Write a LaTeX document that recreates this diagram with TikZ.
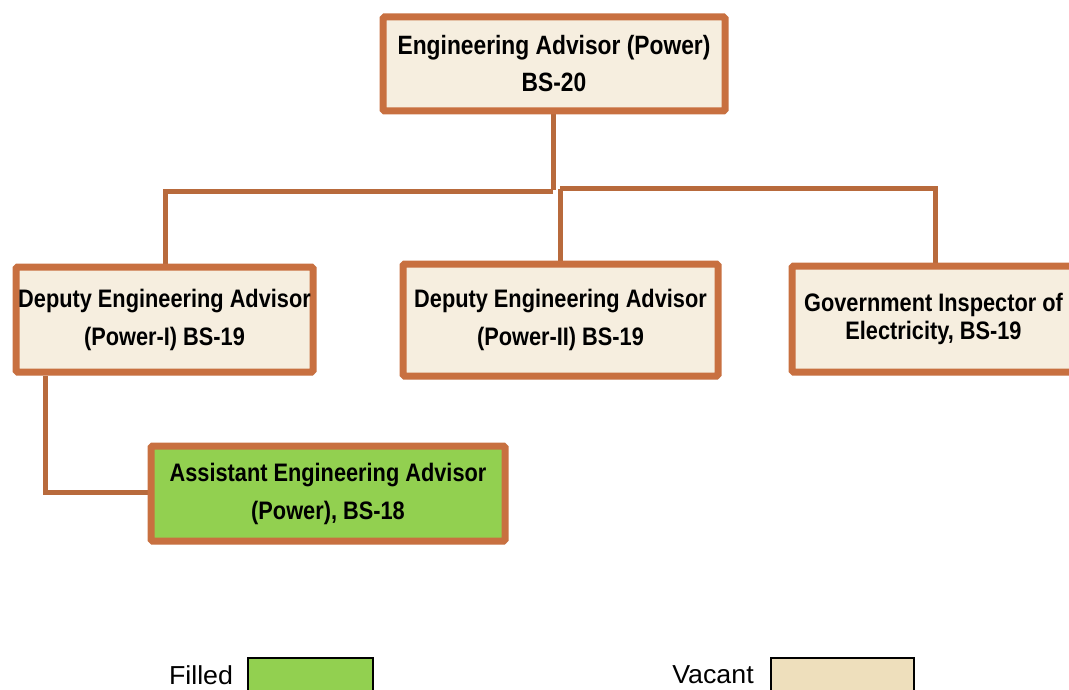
\documentclass[tikz,border=0pt]{standalone}
\usepackage{fontspec}
\setmainfont{Liberation Sans}
\newfontfamily\narrowbf[FakeStretch=0.86]{Liberation Sans Bold}
\newfontfamily\legfont[FakeStretch=1.03]{Liberation Sans}
\usetikzlibrary{shadows,backgrounds}
\definecolor{brd}{HTML}{C87040}
\definecolor{conn}{HTML}{B86A3C}
\definecolor{cream}{HTML}{F6EEDF}
\definecolor{leaf}{HTML}{92D050}
\definecolor{vac}{HTML}{EEDFBC}
\tikzset{
  orgbox/.style={draw=brd, line width=7pt, fill=cream, rectangle, rounded corners=1.5pt,
    align=center, inner sep=0pt,
    font=\narrowbf\fontsize{25.3}{38}\selectfont,
    drop shadow={shadow xshift=2pt, shadow yshift=-3pt, opacity=0.35, fill=black!60}},
  filledbox/.style={orgbox, fill=leaf},
  link/.style={draw=conn, line width=5pt},
  legtext/.style={font=\legfont\fontsize{26}{30}\selectfont, inner sep=0pt},
  legbox/.style={draw=black, line width=1.5pt}
}
\begin{document}
\begin{tikzpicture}[x=1pt, y=-1pt]
\useasboundingbox (0,0) rectangle (1069,690);
\clip (0,0) rectangle (1069,690);
\coordinate (j1) at (553,190);
\coordinate (jl) at (165,192);
\coordinate (jm) at (560,189);
\coordinate (jr) at (935,189);
\coordinate (ja) at (45,492);
\node[orgbox, minimum width=342pt, minimum height=94pt, font=\narrowbf\fontsize{26.5}{37}\selectfont] (top) at (554,64) {Engineering Advisor (Power)\\BS-20};
\node[orgbox, minimum width=297pt, minimum height=105pt] (dep1) at (164.5,319.5) {Deputy Engineering Advisor\\(Power-I) BS-19};
\node[orgbox, minimum width=315pt, minimum height=112pt] (dep2) at (560.5,320) {Deputy Engineering Advisor\\(Power-II) BS-19};
\node[orgbox, minimum width=283pt, minimum height=106pt, font=\narrowbf\fontsize{25.3}{28}\selectfont] (gov) at (933.5,319) {Government Inspector of\\Electricity, BS-19};
\node[filledbox, minimum width=354pt, minimum height=95pt] (asst) at (328,493.5) {Assistant Engineering Advisor\\(Power), BS-18};
\begin{pgfonlayer}{background}
\path[link] (top.south -| j1) -- (j1);
\path[link] (553,192) -- (jl) -- (dep1.north -| jl);
\path[link] (jm) -- (jr) -- (gov.north -| jr);
\path[link] (jm) -- (dep2.north -| jm);
\path[link] (dep1.south -| ja) -- (ja) -- (asst.west |- ja);
\end{pgfonlayer}
% legend
\node[legtext] (lf) at (201,675) {Filled};
\node[legbox, fill=leaf, minimum width=125pt, minimum height=44pt, inner sep=0pt, anchor=north west] (lfb) at (247,657) {};
\node[legtext] (lv) at (713,675) {Vacant};
\node[legbox, fill=vac, minimum width=143pt, minimum height=44pt, inner sep=0pt, anchor=north west] (lvb) at (770,657) {};
\end{tikzpicture}
\end{document}
